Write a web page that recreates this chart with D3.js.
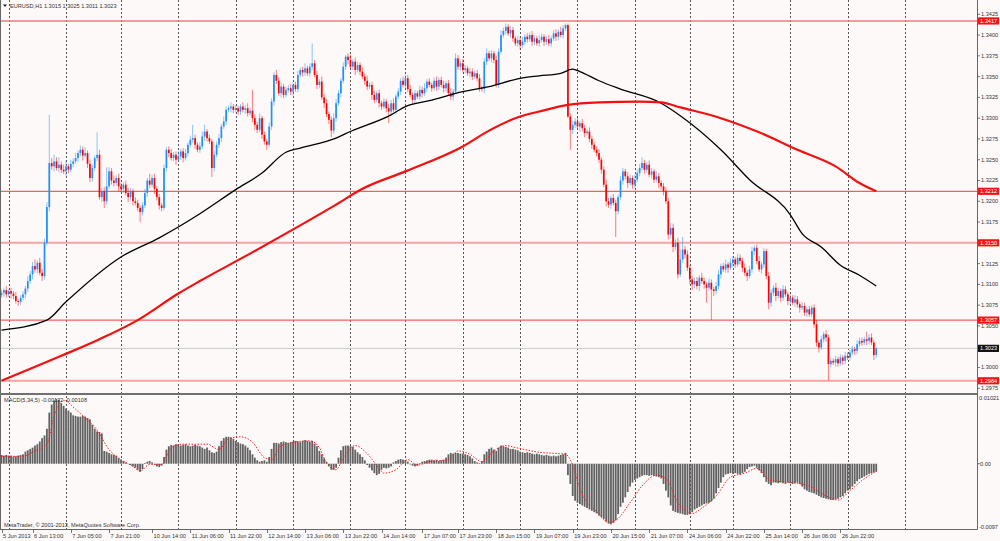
<!DOCTYPE html>
<html><head><meta charset="utf-8">
<script src="https://cdn.jsdelivr.net/npm/d3@7"></script>
<style>html,body{margin:0;padding:0;background:#fdf9f8;}svg{display:block;}</style>
</head><body>
<svg id="c" width="1000" height="541"></svg>
<script>
// ---------------- DATA ----------------
const symbolTitle = "EURUSD,H1  1.3015 1.3025 1.3011 1.3023";
const macdTitle = "MACD(5,34,5) -0.00122 -0.00108";
const copyright = "MetaTrader, \u00a9 2001-2013, MetaQuotes Software Corp.";
const basePrice = 1.3000, pip = 0.0001;
const firstOpen = 87;
// closes in pips above 1.3000, one per H1 bar
const closes = [
 90,93,88,92,89,86,80,79,84,88,
 95,104,112,122,118,126,114,110,150,193,
 246,242,248,240,244,238,236,242,238,245,
 248,252,258,262,255,258,245,228,240,252,
 256,205,212,200,218,236,225,222,228,218,
 215,220,210,205,212,200,198,192,187,195,
 210,225,220,228,215,205,195,192,240,262,
 258,252,256,250,254,260,252,258,268,274,
 276,268,262,266,278,284,276,272,240,256,
 268,276,290,296,310,312,314,310,312,308,
 314,310,312,306,309,300,292,286,300,280,
 272,268,290,320,352,345,330,338,328,334,
 336,332,340,335,352,358,355,360,354,362,
 366,352,340,344,325,318,305,298,285,300,
 318,330,345,362,374,370,362,368,358,364,
 356,350,345,338,340,328,322,330,318,314,
 320,312,308,318,310,326,332,345,340,348,
 335,328,322,330,326,334,330,336,344,340,
 336,345,338,346,340,336,342,330,326,332,
 372,362,366,358,360,354,356,350,354,348,
 336,335,368,378,372,378,370,340,380,400,
 405,410,402,406,396,390,394,388,392,398,
 395,400,392,396,390,394,398,392,395,390,
 396,402,398,404,400,408,412,
 302,
 286,292,296,290,294,288,282,284,275,268,262,258,
 250,238,220,200,196,204,198,188,205,225,
 236,230,222,228,220,226,234,240,246,238,
 244,232,236,226,230,222,218,212,200,160,
 168,145,150,112,130,142,136,120,106,100,
 104,98,108,104,100,96,102,94,92,98,
 112,122,118,124,120,126,130,124,132,128,
 120,114,110,118,140,144,128,118,124,140,
 110,78,90,96,86,92,84,94,88,80,
 84,78,82,76,72,74,66,70,64,72,
 52,30,24,34,40,36,4,8,6,10,
 5,12,8,14,12,18,22,20,28,32,
 30,34,32,36,30,15,23
];
// wick lengths in pips above the body top / below the body bottom
const upWick = [
 4,3,5,2,4,3,5,2,3,4, 3,6,4,5,8,3,6,4,5,6, 58,6,8,5,9,4,6,7,3,5, 4,6,3,5,4,7,3,5,4,3,
 27,6,4,5,23,5,4,6,3,5, 4,3,5,6,4,3,5,4,3,4, 5,3,8,4,5,3,4,3,4,3, 4,5,3,4,6,3,4,5,3,5,
 16,4,3,5,6,8,3,4,3,5, 4,5,3,6,4,3,5,3,4,3, 3,5,4,6,4,25,5,4,6,3, 4,3,5,4,3,6,4,5,3,4,
 4,5,3,4,5,3,4,6,3,4, 24,4,5,3,6,4,5,3,4,6, 5,4,3,5,2,4,6,3,5,4, 3,5,4,6,3,4,5,3,4,3,
 4,3,5,4,6,3,4,3,5,4, 4,5,3,4,3,5,4,6,3,4, 3,4,5,3,4,5,3,4,6,3, 6,4,3,5,4,3,5,4,3,4,
 5,3,4,6,3,4,3,5,4,6, 4,4,3,5,4,3,5,4,6,3, 4,3,5,4,3,6,4,3,4,5, 3,4,5,3,6,4,2,
 2,
 4,5,4,6,3,5,4,3,5,4,3,4, 5,3,4,6,4,3,5,4,3,5, 4,3,5,4,3,6,4,5,7,4, 3,5,4,3,6,4,3,4,5,4,
 6,5,4,6,12,15,4,5,3,4, 4,5,3,6,4,3,5,4,3,5, 5,3,4,6,3,5,4,3,5,4, 4,5,3,4,5,3,4,6,3,4,
 3,5,4,3,6,4,3,5,4,3, 4,3,5,4,3,5,4,3,4,3, 4,5,3,4,3,5,3,4,3,4, 3,4,3,5,4,3,4,3,5,4,
 4,3,9,4,5,3,2
];
const dnWick = [
 3,5,4,3,6,4,3,5,4,3, 5,4,3,6,4,5,3,6,4,3, 5,4,6,3,5,4,3,6,4,3, 4,3,5,4,6,3,5,5,4,3,
 4,3,6,8,4,3,5,4,3,6, 4,5,3,6,4,5,3,4,12,4, 3,5,4,3,6,4,5,4,3,4, 5,3,4,6,3,4,5,3,4,3,
 4,5,3,4,3,5,4,3,11,4, 3,4,5,3,4,3,5,4,3,4, 4,3,5,4,3,5,6,4,3,5, 4,6,3,4,5,4,3,5,4,3,
 3,4,5,3,4,3,5,4,3,4, 4,3,5,4,3,6,4,5,8,4, 4,3,5,3,4,5,3,4,6,3, 4,3,5,4,3,6,4,3,5,4,
 3,5,14,4,3,5,3,4,3,5, 4,3,5,4,3,4,5,3,4,3, 4,3,5,4,3,5,4,3,4,5, 3,4,5,3,4,3,5,4,3,4,
 4,3,5,4,3,5,4,3,4,3, 3,4,3,5,4,3,4,5,3,4, 4,3,5,4,3,4,3,5,4,3, 4,3,5,4,3,4,3,
 2,
 24,5,4,3,6,4,5,3,4,5,3,4, 4,5,3,6,4,5,3,31,4,3, 5,4,6,3,5,4,3,4,3,5, 4,3,5,4,3,6,4,5,3,6,
 5,6,4,5,3,4,5,4,6,7, 5,4,6,3,5,18,4,37,6,4, 4,5,3,4,6,3,5,4,3,4, 5,4,6,3,4,5,4,3,5,4,
 4,8,5,4,6,3,5,4,3,5, 4,3,5,4,6,3,4,5,3,4, 4,5,6,3,4,5,19,4,3,5, 4,3,5,4,3,4,3,5,4,3,
 4,3,5,4,3,6,4
];
const maBlackBars = [0,19,27,50,66,83,98,109,119,125,140,146,163,169,179,193,204,217,225,234,239,242,250,259,276,284,301,313,330,335,343,351,359,366];
const maBlackVals = [1.3045,1.3057,1.3079,1.3133,1.3156,1.3185,1.3214,1.3234,1.3259,1.3264,1.3276,1.3284,1.3304,1.3314,1.3321,1.3332,1.3338,1.3348,1.3351,1.3354,1.3359,1.3356,1.3345,1.3335,1.3318,1.3303,1.3262,1.3226,1.3184,1.3161,1.3145,1.3123,1.3111,1.3098];
const maRedBars = [0,25,41,57,74,83,104,125,140,151,169,193,204,217,225,237,250,267,276,284,301,317,333,349,359,366];
const maRedVals = [1.2984,1.3014,1.3034,1.3057,1.3089,1.3104,1.3137,1.3171,1.3196,1.3215,1.3236,1.3266,1.3285,1.3302,1.3308,1.3316,1.3319,1.3320,1.3319,1.3313,1.3300,1.3283,1.3262,1.3242,1.3222,1.3212];
// MACD histogram (units of 0.0001)
const macdHist = [
 13,12,13,12,12,11,11,12,13,14, 18,20,22,24,27,29,33,38,42,52, 76,88,94,96,95,90,86,82,79,76,
 72,71,70,70,71,70,68,66,58,52, 48,47,45,19,18,16,14,13,12,8, 6,4,2,0,-2,-4,-6,-9,-12,-8,
 1,3,4,2,-1,-4,-5,-3,10,21, 26,28,27,29,28,27,28,29,27,26, 27,28,27,26,24,22,24,20,17,16,
 18,26,34,38,40,40,39,37,34,32, 30,29,27,24,20,14,9,5,3,4, 5,3,10,22,31,31,30,32,33,32,
 31,32,33,34,33,32,34,35,34,33, 34,30,26,19,14,8,3,-4,-9,-9, -6,9,20,26,27,27,26,25,21,17,
 14,10,5,-2,-6,-10,-14,-17,-15,-9, -6,-7,-6,-4,2,4,6,7,6,5, 3,-1,-3,-4,-3,1,3,4,5,6,
 6,5,6,4,5,6,9,14,16,15, 16,16,15,15,14,13,11,8,4,2, 1,4,14,18,22,24,21,19,24,27,
 26,25,24,22,22,21,20,18,17,16, 17,16,15,14,15,14,13,12,13,12, 11,12,11,12,13,14,16,
 -17,
 -30,-48,-55,-58,-60,-62,-64,-66,-68,-70,-72,-74,
 -77,-79,-82,-86,-89,-90,-88,-84,-75,-64, -58,-50,-42,-34,-28,-24,-22,-20,-18,-17,
 -17,-18,-17,-18,-19,-20,-22,-30,-40,-50, -62,-70,-72,-73,-74,-75,-76,-76,-75,-72,
 -68,-66,-64,-62,-60,-59,-58,-56,-52,-44, -36,-28,-20,-16,-15,-14,-15,-14,-15,-16,
 -14,-12,-8,-5,-4,-3,-6,-10,-14,-20, -27,-30,-32,-28,-28,-29,-28,-29,-30,-28,
 -29,-30,-29,-28,-30,-34,-38,-40,-42,-43, -44,-46,-48,-50,-51,-52,-53,-54,-54,-53,
 -52,-50,-48,-44,-40,-38,-34,-30,-26,-23, -21,-19,-17,-15,-14,-13,-12
];
const signalBars = [0,9,14,19,22,26,31,35,40,45,50,55,58,62,67,71,76,86,91,95,100,105,110,113,117,129,133,136,140,143,148,153,158,160,165,170,174,179,187,191,196,201,206,211,215,225,236,239,242,249,254,257,263,268,274,278,283,289,293,299,305,311,316,322,328,338,345,350,355,360,366];
const signalVals = [11,11,19,29,70,94,81,68,50,21,6,-4,-11,-1,-1,24,29,29,21,37,40,32,9,6,27,34,24,1,-9,9,27,15,-7,-14,-9,6,-2,3,6,19,14,3,19,27,24,17,14,-2,-37,-71,-87,-84,-58,-33,-17,-22,-58,-74,-66,-48,-20,-14,-7,-25,-27,-33,-48,-54,-40,-25,-11];
// horizontal levels and price axis
const levels = [1.3417, 1.3212, 1.3150, 1.3057, 1.2984];
const levelWidths = [1.5, 1.2, 2, 1.2, 2];
const levelColors = ["#f27a7a", "#f06262", "#f5a3a3", "#f06262", "#f5a3a3"];
const bidPrice = 1.3023;
const priceTicks = [1.3425,1.3400,1.3375,1.3350,1.3325,1.3300,1.3275,1.3250,1.3225,1.3200,1.3175,1.3125,1.3100,1.3075,1.3050,1.3000,1.2975];
const macdTicks = [102.1, 0, -97];
const macdTickLabels = ["0.01021", "0.00", "-0.0097"];
// time axis
const timeLabels = ["5 Jun 2013","6 Jun 13:00","7 Jun 05:00","7 Jun 21:00","10 Jun 14:00","11 Jun 06:00","11 Jun 22:00","12 Jun 14:00","13 Jun 06:00","13 Jun 22:00","14 Jun 14:00","17 Jun 07:00","17 Jun 23:00","18 Jun 15:00","19 Jun 07:00","19 Jun 23:00","20 Jun 15:00","21 Jun 07:00","24 Jun 06:00","24 Jun 22:00","25 Jun 14:00","26 Jun 06:00","26 Jun 22:00"];
const timeLabelBars = [0,13,29,45,63,79,95,111,127,143,159,176,191,207,223,239,255,271,287,303,319,335,351];
const gridBars = [3,27,50,74,98,122,146,169,193,217,241,265,288,306,330,354,378];

// ---------------- LAYOUT ----------------
const svg = d3.select("#c");
const axisX = 977, mainTop = 0, mainBottom = 393, macdTop = 395, macdBottom = 529;
const font = "'Liberation Sans', Arial, sans-serif";
const fs = 5.6;

const x = d3.scaleLinear().domain([0, 366]).range([1.5, 1.5 + 366 * 2.39]);
const yP = d3.scaleLinear().domain([1.29693, 1.34422]).range([mainBottom, mainTop]);
const yM = d3.scaleLinear().domain([-97, 102.1]).range([macdBottom, macdTop]);
const P = v => basePrice + v * pip;

svg.append("rect").attr("width", 1000).attr("height", 541).attr("fill", "#fdf9f8");

const defs = svg.append("defs");
defs.append("clipPath").attr("id", "clipMain").append("rect")
  .attr("x", 0).attr("y", mainTop).attr("width", axisX).attr("height", mainBottom - mainTop);
defs.append("clipPath").attr("id", "clipMacd").append("rect")
  .attr("x", 0).attr("y", macdTop).attr("width", axisX).attr("height", macdBottom - macdTop);

// grid
const grid = svg.append("g");
[[mainTop, mainBottom], [macdTop + 1, macdBottom]].forEach(([a, b]) => {
  grid.selectAll(null).data(gridBars).enter().append("line")
    .attr("x1", d => Math.round(x(d)) + 0.5).attr("x2", d => Math.round(x(d)) + 0.5)
    .attr("y1", a).attr("y2", b)
    .attr("stroke", "#555").attr("stroke-width", 1).attr("stroke-dasharray", "2,2");
});

// main panel
const main = svg.append("g").attr("clip-path", "url(#clipMain)");
main.selectAll(".lvl").data(levels).enter().append("line")
  .attr("x1", 0).attr("x2", axisX)
  .attr("y1", d => yP(d)).attr("y2", d => yP(d))
  .attr("stroke", (d, i) => levelColors[i]).attr("stroke-width", (d, i) => levelWidths[i]);
main.append("line").attr("x1", 0).attr("x2", axisX)
  .attr("y1", yP(bidPrice)).attr("y2", yP(bidPrice))
  .attr("stroke", "#c9c9c9").attr("stroke-width", 1);

const bars = closes.map((c, i) => {
  const o = i === 0 ? firstOpen : closes[i - 1];
  const top = Math.max(o, c), bot = Math.min(o, c);
  return { i, o, c, h: top + upWick[i], l: bot - dnWick[i], up: c >= o };
});
const cg = main.append("g");
cg.selectAll(".wick").data(bars).enter().append("line")
  .attr("x1", d => x(d.i)).attr("x2", d => x(d.i))
  .attr("y1", d => yP(P(d.h))).attr("y2", d => yP(P(d.l)))
  .attr("stroke", d => d.up ? "#1e90ff" : "#ff0000").attr("stroke-opacity", 0.5).attr("stroke-width", 1);
cg.selectAll(".body").data(bars).enter().append("rect")
  .attr("x", d => x(d.i) - 0.85).attr("width", 1.7)
  .attr("y", d => yP(P(Math.max(d.o, d.c))))
  .attr("height", d => Math.max(0.9, Math.abs(yP(P(d.o)) - yP(P(d.c)))))
  .attr("fill", d => d.up ? "#1e90ff" : "#ff0000");

const line = d3.line().x(d => x(d[0])).y(d => yP(d[1])).curve(d3.curveMonotoneX);
main.append("path").datum(maBlackBars.map((b, i) => [b, maBlackVals[i]]))
  .attr("d", line).attr("fill", "none").attr("stroke", "#000").attr("stroke-width", 1.3);
main.append("path").datum(maRedBars.map((b, i) => [b, maRedVals[i]]))
  .attr("d", line).attr("fill", "none").attr("stroke", "#f21010").attr("stroke-width", 2.2);

// MACD panel
const mg = svg.append("g").attr("clip-path", "url(#clipMacd)");
mg.selectAll(".hb").data(macdHist).enter().append("rect")
  .attr("x", (d, i) => x(i) - 0.9).attr("width", 1.8)
  .attr("y", d => Math.min(yM(d), yM(0)))
  .attr("height", d => Math.abs(yM(d) - yM(0)))
  .attr("fill", "#626262");
const sline = d3.line().x(d => x(d[0])).y(d => yM(d[1])).curve(d3.curveMonotoneX);
mg.append("path").datum(signalBars.map((b, i) => [b, signalVals[i]]))
  .attr("d", sline).attr("fill", "none").attr("stroke", "#ff2020")
  .attr("stroke-width", 1).attr("stroke-dasharray", "1.5,1.5");

// frames
const frame = svg.append("g").attr("stroke", "#666").attr("fill", "none");
frame.append("line").attr("x1", 0.5).attr("x2", 0.5).attr("y1", 0).attr("y2", macdBottom);
frame.append("line").attr("x1", axisX + 0.5).attr("x2", axisX + 0.5).attr("y1", 0).attr("y2", macdBottom + 0.5);
frame.append("line").attr("x1", 0).attr("x2", axisX).attr("y1", 394).attr("y2", 394).attr("stroke-width", 2).attr("stroke", "#707070");
frame.append("line").attr("x1", 0).attr("x2", axisX + 0.5).attr("y1", macdBottom + 0.5).attr("y2", macdBottom + 0.5);

// price axis
const pa = svg.append("g").attr("font-family", font).attr("font-size", fs).attr("fill", "#333");
pa.selectAll(".pt").data(priceTicks).enter().append("line")
  .attr("x1", axisX).attr("x2", axisX + 3).attr("y1", d => yP(d)).attr("y2", d => yP(d))
  .attr("stroke", "#555").attr("stroke-width", 0.8);
pa.selectAll(".pl").data(priceTicks).enter().append("text")
  .attr("x", 981).attr("y", d => yP(d)).attr("dy", "0.35em").text(d => d.toFixed(4));
levels.forEach(p => {
  pa.append("rect").attr("x", axisX + 1).attr("y", yP(p) - 3.6).attr("width", 21).attr("height", 7.2).attr("fill", "#ff1010");
  pa.append("text").attr("x", 980).attr("y", yP(p)).attr("dy", "0.35em").attr("fill", "#fff").text(p.toFixed(4));
});
pa.append("rect").attr("x", axisX + 1).attr("y", yP(bidPrice) - 3.6).attr("width", 21).attr("height", 7.2).attr("fill", "#111");
pa.append("text").attr("x", 980).attr("y", yP(bidPrice)).attr("dy", "0.35em").attr("fill", "#fff").text(bidPrice.toFixed(4));

// MACD axis labels
pa.selectAll(".ml").data(macdTicks).enter().append("text")
  .attr("x", (d, i) => i === 1 ? 980 : 979)
  .attr("y", (d, i) => i === 0 ? yM(d) + 3 : (i === 2 ? yM(d) - 2 : yM(d)))
  .attr("dy", "0.35em").text((d, i) => macdTickLabels[i]);
pa.append("line").attr("x1", axisX).attr("x2", axisX + 3).attr("y1", yM(0)).attr("y2", yM(0)).attr("stroke", "#555").attr("stroke-width", 0.8);

// time axis
const ta = svg.append("g").attr("font-family", font).attr("font-size", fs).attr("fill", "#333");
ta.selectAll(".tt").data(timeLabelBars).enter().append("line")
  .attr("x1", d => Math.round(x(d)) + 0.5).attr("x2", d => Math.round(x(d)) + 0.5)
  .attr("y1", macdBottom).attr("y2", macdBottom + 4).attr("stroke", "#555").attr("stroke-width", 0.8);
ta.selectAll(".tl").data(timeLabels).enter().append("text")
  .attr("x", (d, i) => x(timeLabelBars[i]) + 1.5).attr("y", 536).attr("dy", "0.35em").text(d => d);

// titles
const tg = svg.append("g").attr("font-family", font).attr("font-size", fs).attr("fill", "#333");
tg.append("path").attr("d", "M3,4.5 L7,4.5 L5,7 Z").attr("fill", "#222");
tg.append("text").attr("x", 10).attr("y", 6).attr("dy", "0.35em").text(symbolTitle);
tg.append("text").attr("x", 4).attr("y", 400).attr("dy", "0.35em").text(macdTitle);
tg.append("text").attr("x", 4).attr("y", 525.5).attr("dy", "0.35em").text(copyright);
</script>
</body></html>
